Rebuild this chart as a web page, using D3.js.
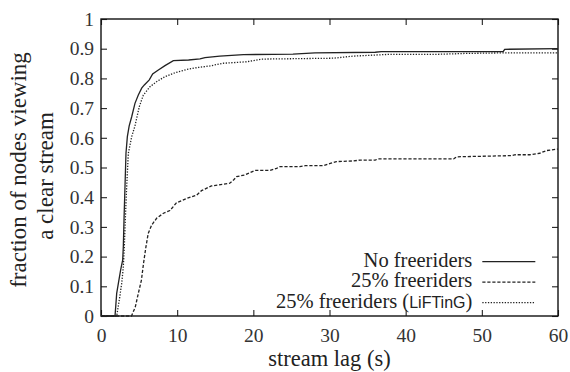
<!DOCTYPE html>
<html>
<head>
<meta charset="utf-8">
<script src="https://cdn.jsdelivr.net/npm/d3@7"></script>
<style>
  body { margin: 0; background: #fff; }
</style>
</head>
<body>
<div id="chart"></div>
<script>
// stream lag (s) / fraction of nodes viewing a clear stream
const lagNoFree = [0, 1.84, 2.06, 2.28, 2.58, 2.85, 2.93, 3.02, 3.15, 3.28, 3.46, 3.7, 4.03, 4.46, 4.9, 5.34, 5.69, 6.34, 6.78, 7.53, 8.4, 9.5, 11.5, 13.0, 13.65, 15.6, 18.7, 25.2, 28.1, 36.0, 36.8, 52.8, 53.0, 60];
const fracNoFree = [0, 0, 0.076, 0.11, 0.155, 0.189, 0.233, 0.323, 0.435, 0.548, 0.604, 0.64, 0.671, 0.716, 0.744, 0.767, 0.778, 0.795, 0.815, 0.828, 0.843, 0.86, 0.862, 0.866, 0.87, 0.875, 0.88, 0.882, 0.886, 0.888, 0.89, 0.89, 0.898, 0.9];

const lagFree = [0, 4.0, 4.5, 4.9, 5.3, 5.6, 5.9, 6.2, 6.65, 7.3, 8.2, 9.05, 9.9, 11.25, 12.55, 13.2, 14.5, 16.9, 17.4, 17.8, 18.9, 20.2, 22.2, 23.05, 23.5, 26.1, 26.8, 29.2, 30.1, 30.9, 33.1, 34.0, 36.0, 36.4, 46.3, 46.7, 53.9, 54.4, 56.3, 57.6, 58.5, 60];
const fracFree = [0, 0, 0.03, 0.076, 0.12, 0.18, 0.233, 0.278, 0.306, 0.329, 0.346, 0.355, 0.381, 0.396, 0.407, 0.422, 0.438, 0.447, 0.458, 0.469, 0.475, 0.49, 0.49, 0.497, 0.503, 0.503, 0.506, 0.506, 0.514, 0.52, 0.522, 0.525, 0.525, 0.529, 0.529, 0.536, 0.54, 0.543, 0.543, 0.548, 0.557, 0.562];

const lagLifting = [0, 2.06, 2.4, 2.72, 2.93, 3.06, 3.19, 3.37, 3.59, 4.03, 4.46, 5.03, 5.56, 6.43, 7.3, 8.4, 9.7, 11.25, 12.8, 14.3, 16.05, 19.1, 21.1, 30.5, 33.1, 37.9, 44.1, 47.8, 52.8, 60];
const fracLifting = [0, 0, 0.054, 0.11, 0.166, 0.233, 0.323, 0.435, 0.548, 0.604, 0.64, 0.705, 0.744, 0.772, 0.789, 0.806, 0.819, 0.83, 0.837, 0.842, 0.851, 0.856, 0.865, 0.868, 0.875, 0.881, 0.881, 0.884, 0.886, 0.886];

const xTicks = [0, 10, 20, 30, 40, 50, 60];
const yTicks = [0, 0.1, 0.2, 0.3, 0.4, 0.5, 0.6, 0.7, 0.8, 0.9, 1];
const seriesNames = ['No freeriders', '25% freeriders', '25% freeriders'];

const serif = '"Times New Roman", Times, serif';
const sans = '"Liberation Sans", Arial, sans-serif';

const width = 570, height = 372;
const margin = { top: 19, right: 12, bottom: 56, left: 101 };
const w = width - margin.left - margin.right;
const h = height - margin.top - margin.bottom;

const svg = d3.select('#chart').append('svg')
    .attr('width', width)
    .attr('height', height)
    .style('font-family', serif);

const g = svg.append('g')
    .attr('transform', `translate(${margin.left},${margin.top})`);

const x = d3.scaleLinear().domain([0, 60]).range([0, w]);
const y = d3.scaleLinear().domain([0, 1]).range([h, 0]);

// inward ticks on all four sides, labels only bottom/left
const tickLen = 6;
g.append('g')
    .attr('transform', `translate(0,${h})`)
    .call(d3.axisBottom(x).tickValues(xTicks).tickSizeInner(-tickLen).tickSizeOuter(0).tickPadding(12).tickFormat(d3.format('d')));
g.append('g')
    .call(d3.axisLeft(y).tickValues(yTicks).tickSizeInner(-tickLen).tickSizeOuter(0).tickPadding(7).tickFormat(d => d === 0 || d === 1 ? d : d.toFixed(1)));
g.append('g')
    .call(d3.axisTop(x).tickValues(xTicks).tickSizeInner(-tickLen).tickSizeOuter(0).tickFormat(''));
g.append('g')
    .attr('transform', `translate(${w},0)`)
    .call(d3.axisRight(y).tickValues(yTicks).tickSizeInner(-tickLen).tickSizeOuter(0).tickFormat(''));

g.selectAll('.domain').remove();
g.selectAll('.tick line').attr('stroke', '#222').attr('stroke-width', 1.1);
g.selectAll('.tick text')
    .style('font-family', serif)
    .style('font-size', '19.5px')
    .attr('fill', '#333');

g.append('rect')
    .attr('width', w)
    .attr('height', h)
    .attr('fill', 'none')
    .attr('stroke', '#111')
    .attr('stroke-width', 1.4);

const line = d3.line()
    .x(d => x(d[0]))
    .y(d => y(d[1]));

const series = [
  { lag: lagNoFree, frac: fracNoFree, dash: null },
  { lag: lagFree, frac: fracFree, dash: '3.2,1.8' },
  { lag: lagLifting, frac: fracLifting, dash: '1.3,1.5' }
];

series.forEach(s => {
  g.append('path')
      .datum(d3.zip(s.lag, s.frac))
      .attr('d', line)
      .attr('fill', 'none')
      .attr('stroke', '#222')
      .attr('stroke-width', 1.3)
      .attr('stroke-dasharray', s.dash);
});

// legend
const legend = g.append('g')
    .attr('transform', `translate(${x(48.75)},${y(0.183)})`);

series.forEach((s, i) => {
  const row = legend.append('g').attr('transform', `translate(0,${i * 20.5})`);
  const t = row.append('text')
      .attr('x', 0)
      .attr('y', 5)
      .attr('text-anchor', 'end')
      .style('font-family', serif)
      .style('font-size', '20.5px')
      .attr('fill', '#222')
      .text(seriesNames[i]);
  if (i === 2) {
    t.append('tspan').text(' (');
    t.append('tspan')
        .style('font-family', sans)
        .style('font-size', '16px')
        .text('LiFTinG');
    t.append('tspan').text(')');
  }
  row.append('line')
      .attr('x1', 10)
      .attr('x2', 63)
      .attr('stroke', '#222')
      .attr('stroke-width', 1.3)
      .attr('stroke-dasharray', s.dash);
});

// axis titles
svg.append('text')
    .attr('x', margin.left + w / 2)
    .attr('y', 366)
    .attr('text-anchor', 'middle')
    .style('font-size', '22.5px')
    .attr('fill', '#222')
    .text('stream lag (s)');

svg.append('text')
    .attr('transform', 'translate(26,170) rotate(-90)')
    .attr('text-anchor', 'middle')
    .style('font-size', '23px')
    .attr('fill', '#222')
    .text('fraction of nodes viewing');

svg.append('text')
    .attr('transform', 'translate(53,176) rotate(-90)')
    .attr('text-anchor', 'middle')
    .style('font-size', '23px')
    .attr('fill', '#222')
    .text('a clear stream');
</script>
</body>
</html>
